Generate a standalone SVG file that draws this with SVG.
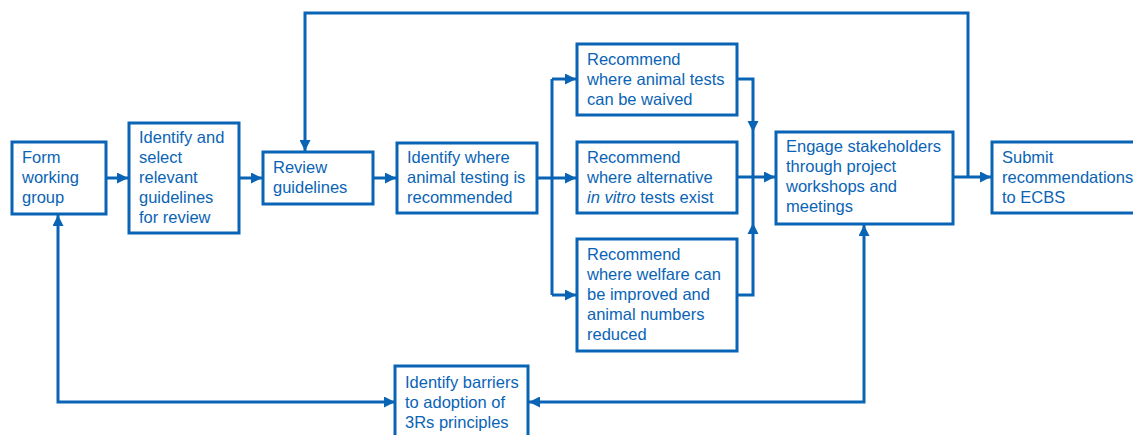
<svg xmlns="http://www.w3.org/2000/svg" width="1133" height="435" viewBox="0 0 1133 435">
<style>
.box{fill:#fff;stroke:#0a64b6;stroke-width:3}
.t{font-family:"Liberation Sans",Arial,sans-serif;font-size:16.5px;fill:#0a64b6}
.c{fill:none;stroke:#0a64b6;stroke-width:3}
.ah{fill:#0a64b6}
</style>
<defs>
<marker id="arr" viewBox="0 0 10 10" refX="10" refY="5" markerWidth="11" markerHeight="11" markerUnits="userSpaceOnUse" orient="auto-start-reverse">
<path d="M0,0 L10,5 L0,10 Z" fill="#0a64b6"/>
</marker>
</defs>
<rect width="1133" height="435" fill="#fff"/>
<g id="connectors">
<path class="c" d="M106,178 H128" marker-end="url(#arr)"/>
<path class="c" d="M239,178 H262" marker-end="url(#arr)"/>
<path class="c" d="M373,178 H396" marker-end="url(#arr)"/>
<path class="c" d="M537,178 H576" marker-end="url(#arr)"/>
<path class="c" d="M552,79 V295"/>
<path class="c" d="M552,79 H576" marker-end="url(#arr)"/>
<path class="c" d="M552,295 H576" marker-end="url(#arr)"/>
<path class="c" d="M737,79 H753 V295 H737"/>
<polygon class="ah" points="747.5,121 758.5,121 753,132"/>
<polygon class="ah" points="747.5,234 758.5,234 753,223"/>
<path class="c" d="M737,177 H775" marker-end="url(#arr)"/>
<path class="c" d="M953,177 H991" marker-end="url(#arr)"/>
<path class="c" d="M968,177 V13 H305 V151" marker-end="url(#arr)"/>
<path class="c" d="M395,402 H58 V215" marker-start="url(#arr)" marker-end="url(#arr)"/>
<path class="c" d="M529,402 H864 V225" marker-start="url(#arr)" marker-end="url(#arr)"/>
</g>
<g id="form">
<rect class="box" x="12" y="142" width="94" height="72"/>
<text class="t" x="22" y="163">Form</text>
<text class="t" x="22" y="183">working</text>
<text class="t" x="22" y="203">group</text>
</g>
<g id="select">
<rect class="box" x="129" y="123" width="110" height="110"/>
<text class="t" x="139" y="143">Identify and</text>
<text class="t" x="139" y="163">select</text>
<text class="t" x="139" y="183">relevant</text>
<text class="t" x="139" y="203">guidelines</text>
<text class="t" x="139" y="223">for review</text>
</g>
<g id="review">
<rect class="box" x="263" y="152" width="110" height="52"/>
<text class="t" x="273" y="173">Review</text>
<text class="t" x="273" y="193">guidelines</text>
</g>
<g id="where">
<rect class="box" x="397" y="143" width="140" height="70"/>
<text class="t" x="407" y="163">Identify where</text>
<text class="t" x="407" y="183">animal testing is</text>
<text class="t" x="407" y="203">recommended</text>
</g>
<g id="waived">
<rect class="box" x="577" y="44" width="160" height="71"/>
<text class="t" x="587" y="65">Recommend</text>
<text class="t" x="587" y="85">where animal tests</text>
<text class="t" x="587" y="105">can be waived</text>
</g>
<g id="invitro">
<rect class="box" x="577" y="142" width="160" height="71"/>
<text class="t" x="587" y="163">Recommend</text>
<text class="t" x="587" y="183">where alternative</text>
<text class="t" x="587" y="203"><tspan font-style="italic">in vitro</tspan> tests exist</text>
</g>
<g id="welfare">
<rect class="box" x="577" y="239" width="160" height="112"/>
<text class="t" x="587" y="260">Recommend</text>
<text class="t" x="587" y="280">where welfare can</text>
<text class="t" x="587" y="300">be improved and</text>
<text class="t" x="587" y="320">animal numbers</text>
<text class="t" x="587" y="340">reduced</text>
</g>
<g id="engage">
<rect class="box" x="776" y="132" width="177" height="92"/>
<text class="t" x="786" y="152">Engage stakeholders</text>
<text class="t" x="786" y="172">through project</text>
<text class="t" x="786" y="192">workshops and</text>
<text class="t" x="786" y="212">meetings</text>
</g>
<g id="submit">
<rect class="box" x="992" y="142" width="160" height="71"/>
<text class="t" x="1002" y="163">Submit</text>
<text class="t" x="1002" y="183">recommendations</text>
<text class="t" x="1002" y="203">to ECBS</text>
</g>
<g id="barriers">
<rect class="box" x="395" y="366" width="133" height="80"/>
<text class="t" x="405" y="388">Identify barriers</text>
<text class="t" x="405" y="408">to adoption of</text>
<text class="t" x="405" y="428">3Rs principles</text>
</g>
</svg>
